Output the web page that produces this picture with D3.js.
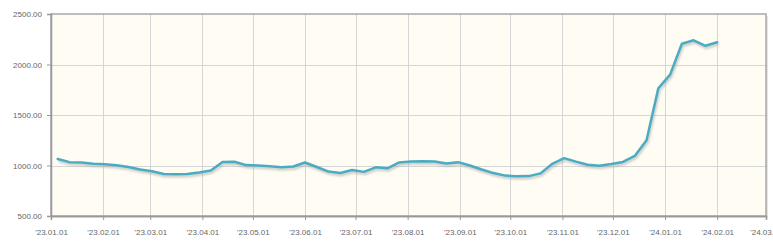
<!DOCTYPE html>
<html>
<head>
<meta charset="utf-8">
<script src="https://cdn.jsdelivr.net/npm/d3@7"></script>
<style>
  body { margin: 0; background: #fff; }
  svg { display: block; }
  .axis text { font-family: "Liberation Sans", Arial, sans-serif; font-size: 8px; fill: #666; }
</style>
</head>
<body>
<svg id="chart" width="773" height="247"></svg>
<script>
const dates = [
  "2023-01-05", "2023-01-12", "2023-01-19", "2023-01-26",
  "2023-02-02", "2023-02-09", "2023-02-16", "2023-02-23",
  "2023-03-02", "2023-03-09", "2023-03-16", "2023-03-23", "2023-03-30",
  "2023-04-06", "2023-04-13", "2023-04-20", "2023-04-27",
  "2023-05-04", "2023-05-11", "2023-05-18", "2023-05-25",
  "2023-06-01", "2023-06-08", "2023-06-15", "2023-06-22", "2023-06-29",
  "2023-07-06", "2023-07-13", "2023-07-20", "2023-07-27",
  "2023-08-03", "2023-08-10", "2023-08-17", "2023-08-24", "2023-08-31",
  "2023-09-07", "2023-09-14", "2023-09-21", "2023-09-28",
  "2023-10-05", "2023-10-12", "2023-10-19", "2023-10-26",
  "2023-11-02", "2023-11-09", "2023-11-16", "2023-11-23", "2023-11-30",
  "2023-12-07", "2023-12-14", "2023-12-21", "2023-12-28",
  "2024-01-04", "2024-01-11", "2024-01-18", "2024-01-25",
  "2024-02-01"
];
const prices = [
  1065, 1033, 1030, 1018,
  1012, 1003, 985, 960,
  943, 915, 913, 915, 930,
  950, 1035, 1037, 1004,
  1000, 992, 983, 990,
  1030, 985, 940, 925, 955,
  937, 982, 972, 1030,
  1040, 1043, 1040, 1020, 1033,
  1000, 960, 925, 900,
  893, 895, 922, 1017,
  1073, 1038, 1008, 998, 1015,
  1035, 1095, 1250, 1765,
  1900, 2205, 2240, 2185,
  2220
];
const xTicks = [
  "2023-01-01", "2023-02-01", "2023-03-01", "2023-04-01", "2023-05-01",
  "2023-06-01", "2023-07-01", "2023-08-01", "2023-09-01", "2023-10-01",
  "2023-11-01", "2023-12-01", "2024-01-01", "2024-02-01", "2024-03-01"
];
const yTicks = [500, 1000, 1500, 2000, 2500];

const parse = d3.timeParse("%Y-%m-%d");
const data = dates.map((d, i) => ({ date: parse(d), value: prices[i] }));

const svg = d3.select("#chart");
const margin = { top: 14, right: 7, bottom: 31, left: 51 };
const width = 773, height = 247;
const innerW = width - margin.left - margin.right;
const innerH = height - margin.top - margin.bottom;

const x = d3.scaleTime()
  .domain([parse(xTicks[0]), parse(xTicks[xTicks.length - 1])])
  .range([0, innerW]);
const y = d3.scaleLinear().domain([500, 2500]).range([innerH, 0]);

const defs = svg.append("defs");
const shadow = defs.append("filter").attr("id", "shadow")
  .attr("x", "-5%").attr("y", "-5%").attr("width", "110%").attr("height", "120%");
shadow.append("feGaussianBlur").attr("stdDeviation", 0.8);

const g = svg.append("g").attr("transform", `translate(${margin.left},${margin.top})`);

// frame shadow + background
g.append("rect")
  .attr("x", 2).attr("y", 2).attr("width", innerW).attr("height", innerH)
  .attr("fill", "#e4e4e4");
g.append("rect")
  .attr("width", innerW).attr("height", innerH)
  .attr("fill", "#fffcf4");

// grid
g.append("g")
  .selectAll("line")
  .data(yTicks.slice(1, -1))
  .join("line")
  .attr("x1", 0).attr("x2", innerW)
  .attr("y1", (d) => Math.round(y(d)) + 0.5).attr("y2", (d) => Math.round(y(d)) + 0.5)
  .attr("stroke", "#d6d6d6");
g.append("g")
  .selectAll("line")
  .data(xTicks.slice(1, -1).map(parse))
  .join("line")
  .attr("x1", (d) => Math.round(x(d)) + 0.5).attr("x2", (d) => Math.round(x(d)) + 0.5)
  .attr("y1", 0).attr("y2", innerH)
  .attr("stroke", "#d6d6d6");

// frame
g.append("rect")
  .attr("width", innerW).attr("height", innerH)
  .attr("fill", "none")
  .attr("stroke", "#a8a8a8")
  .attr("stroke-width", 1.5);

// axes
const xAxis = d3.axisBottom(x)
  .tickValues(xTicks.map(parse))
  .tickFormat(d3.timeFormat("'%y.%m.%d"))
  .tickSize(4)
  .tickPadding(9);
g.append("g")
  .attr("class", "axis")
  .attr("transform", `translate(0,${innerH})`)
  .call(xAxis)
  .call((a) => a.select(".domain").attr("stroke", "#999").attr("stroke-width", 1.5))
  .call((a) => a.selectAll(".tick line").attr("stroke", "#999"));

const yAxis = d3.axisLeft(y)
  .tickValues(yTicks)
  .tickFormat(d3.format(".2f"))
  .tickSize(4)
  .tickPadding(5);
g.append("g")
  .attr("class", "axis")
  .call(yAxis)
  .call((a) => a.select(".domain").attr("stroke", "#999").attr("stroke-width", 1.5))
  .call((a) => a.selectAll(".tick line").attr("stroke", "#999"));

// line with shadow
const line = d3.line().x((d) => x(d.date)).y((d) => y(d.value));
g.append("path")
  .datum(data)
  .attr("d", line)
  .attr("transform", "translate(1,2)")
  .attr("fill", "none")
  .attr("stroke", "#9a9a9a")
  .attr("stroke-opacity", 0.55)
  .attr("stroke-width", 2.5)
  .attr("stroke-linejoin", "round")
  .attr("filter", "url(#shadow)");
g.append("path")
  .datum(data)
  .attr("d", line)
  .attr("fill", "none")
  .attr("stroke", "#4aacc2")
  .attr("stroke-width", 2.5)
  .attr("stroke-linejoin", "round")
  .attr("stroke-linecap", "round");
</script>
</body>
</html>
